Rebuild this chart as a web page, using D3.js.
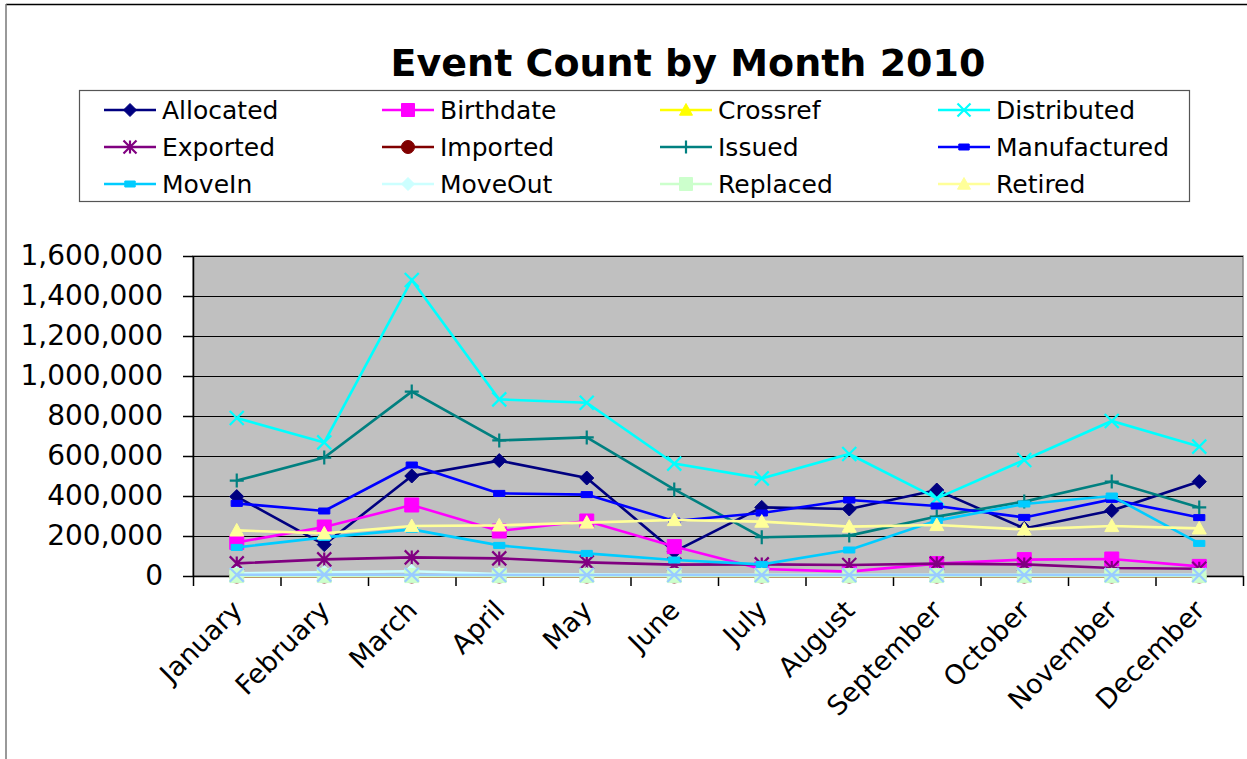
<!DOCTYPE html>
<html>
<head>
<meta charset="utf-8">
<script src="https://cdn.jsdelivr.net/npm/d3@7"></script>
<style>
	body { margin: 0; background: #fff; }
	svg { display: block; font-family: "DejaVu Sans", Verdana, sans-serif; }
</style>
</head>
<body>
<div id="chart"></div>
<script>
	/*
	 * Event counts per month.
	 */
	var months = ['January', 'February', 'March', 'April', 'May', 'June',
		'July', 'August', 'September', 'October', 'November', 'December'];
	var yTicks = [0, 200000, 400000, 600000, 800000, 1000000, 1200000, 1400000, 1600000];

	var allocated = [397000, 157000, 500000, 577000, 490000, 122000, 343000, 335000, 430000, 238000, 327000, 472000];
	var birthdate = [168000, 245000, 355000, 225000, 275000, 147000, 35000, 22000, 62000, 82000, 85000, 48000];
	var crossref = [0, 0, 0, 0, 0, 0, 0, 0, 0, 0, 0, 0];
	var distributed = [790000, 668000, 1480000, 883000, 866000, 562000, 488000, 610000, 388000, 580000, 775000, 647000];
	var exported = [63000, 83000, 93000, 88000, 68000, 57000, 58000, 55000, 62000, 58000, 40000, 36000];
	var imported = [0, 0, 0, 0, 0, 0, 0, 0, 0, 0, 0, 0];
	var issued = [477000, 592000, 922000, 678000, 693000, 433000, 194000, 202000, 297000, 372000, 472000, 343000];
	var manufactured = [363000, 325000, 555000, 413000, 407000, 275000, 315000, 380000, 350000, 293000, 383000, 292000];
	var moveIn = [143000, 193000, 233000, 153000, 113000, 80000, 58000, 130000, 277000, 360000, 400000, 163000];
	var moveOut = [14000, 18000, 24000, 10000, 8000, 6000, 6000, 6000, 6000, 6000, 6000, 6000];
	var replaced = [2000, 2000, 2000, 2000, 2000, 2000, 2000, 2000, 2000, 2000, 2000, 2000];
	var retired = [228000, 213000, 250000, 253000, 267000, 280000, 272000, 247000, 255000, 233000, 250000, 238000];
	// 13th series shows in the plot but has no legend entry
	var extra = [6000, 7000, 6000, 5000, 5000, 5000, 5000, 5000, 5000, 5000, 5000, 5000];

	var seriesNames = ['Allocated', 'Birthdate', 'Crossref', 'Distributed', 'Exported', 'Imported',
		'Issued', 'Manufactured', 'MoveIn', 'MoveOut', 'Replaced', 'Retired', ''];
	var seriesValues = [allocated, birthdate, crossref, distributed, exported, imported,
		issued, manufactured, moveIn, moveOut, replaced, retired, extra];
	var seriesColors = ['#000080', '#ff00ff', '#ffff00', '#00ffff', '#800080', '#800000',
		'#008080', '#0000ff', '#00ccff', '#ccffff', '#ccffcc', '#ffff99', '#99ccff'];
	var seriesMarkers = ['diamond', 'square', 'triangle', 'x', 'star', 'circle',
		'plus', 'dash', 'dash', 'diamond', 'square', 'triangle', 'x'];

	var width = 1247,
		height = 759,
		plot = {left: 193, top: 256, right: 1243, bottom: 576};

	var svg = d3.select('#chart').append('svg')
		.attr('width', width)
		.attr('height', height);

	// outer chart border (only top and left visible)
	svg.append('line').attr('x1', 6).attr('x2', width).attr('y1', 4.5).attr('y2', 4.5)
		.attr('stroke', '#000').attr('stroke-width', 1.5);
	svg.append('line').attr('x1', 6).attr('x2', 6).attr('y1', 4).attr('y2', height)
		.attr('stroke', '#777').attr('stroke-width', 1.5);

	svg.append('text')
		.attr('x', 688)
		.attr('y', 76)
		.attr('text-anchor', 'middle')
		.attr('font-size', 38)
		.attr('font-weight', 'bold')
		.text('Event Count by Month 2010');

	var x = d3.scaleBand().domain(months).range([plot.left, plot.right]).padding(0),
		xEdge = d3.scaleLinear().domain([0, months.length]).range([plot.left, plot.right]),
		y = d3.scaleLinear().domain([0, 1600000]).range([plot.bottom, plot.top]);

	function cx(d, i) { return x(months[i]) + x.bandwidth() / 2; }

	svg.append('rect')
		.attr('x', plot.left).attr('y', plot.top)
		.attr('width', plot.right - plot.left).attr('height', plot.bottom - plot.top)
		.attr('fill', '#c0c0c0')
		.attr('stroke', '#888').attr('stroke-width', 1.5);

	// gridlines
	svg.append('g')
		.attr('transform', 'translate(' + plot.left + ',0)')
		.call(d3.axisLeft(y).tickValues(yTicks.slice(1)).tickSize(-(plot.right - plot.left)).tickFormat(''))
		.call(function(g) {
			g.select('.domain').remove();
			g.selectAll('line').attr('stroke', '#000').attr('stroke-width', 1.2);
		});

	var yAxis = svg.append('g')
		.attr('transform', 'translate(' + plot.left + ',0)')
		.call(d3.axisLeft(y).tickValues(yTicks).tickSize(10).tickSizeOuter(0).tickPadding(20)
			.tickFormat(d3.format(',')));
	yAxis.selectAll('text').attr('font-size', 28).attr('font-family', 'DejaVu Sans').attr('fill', '#000');
	yAxis.selectAll('line, path').attr('stroke', '#000').attr('stroke-width', 1.5);

	var xAxis = svg.append('g')
		.attr('transform', 'translate(0,' + plot.bottom + ')')
		.call(d3.axisBottom(xEdge).tickValues(d3.range(months.length + 1)).tickSize(10).tickSizeOuter(0).tickFormat(''));
	xAxis.selectAll('line, path').attr('stroke', '#000').attr('stroke-width', 1.5);

	svg.append('g').selectAll('text')
		.data(months)
		.enter().append('text')
		.attr('transform', function(d, i) {
			return 'translate(' + (cx(d, i) + 7) + ',' + (plot.bottom + 36) + ') rotate(-45)';
		})
		.attr('text-anchor', 'end')
		.attr('font-size', 27)
		.text(function(d) { return d; });

	function markerPath(type, s) {
		var h = s / 2;
		switch (type) {
		case 'diamond':
			return 'M0,' + -h + 'L' + h + ',0L0,' + h + 'L' + -h + ',0Z';
		case 'square':
			return 'M' + -h + ',' + -h + 'h' + s + 'v' + s + 'h' + -s + 'Z';
		case 'triangle':
			return 'M0,' + -h + 'L' + h + ',' + (h * 0.8) + 'L' + -h + ',' + (h * 0.8) + 'Z';
		case 'circle':
			return d3.symbol().type(d3.symbolCircle).size(Math.PI * h * h)();
		case 'dash':
			return 'M' + -h * 0.8 + ',-3h' + s * 0.8 + 'v6h' + -s * 0.8 + 'Z';
		case 'x':
			return 'M' + -h + ',' + -h + 'L' + h + ',' + h + 'M' + h + ',' + -h + 'L' + -h + ',' + h;
		case 'plus':
			return 'M0,' + -h + 'V' + h + 'M' + -h + ',0H' + h;
		case 'star':
			return 'M' + -h + ',' + -h + 'L' + h + ',' + h + 'M' + h + ',' + -h + 'L' + -h + ',' + h +
				'M0,' + -h + 'V' + h;
		}
	}

	function isStroke(type) { return type === 'x' || type === 'plus' || type === 'star'; }

	function drawMarker(sel, type, color, s) {
		sel.attr('d', markerPath(type, s));
		if (isStroke(type)) {
			sel.attr('fill', 'none').attr('stroke', color).attr('stroke-width', 2.2);
		} else {
			sel.attr('fill', color).attr('stroke', color).attr('stroke-width', 1);
		}
	}

	var line = d3.line()
		.x(function(d, i) { return cx(d, i); })
		.y(function(d) { return y(d); });

	var series = svg.append('g').selectAll('g')
		.data(seriesValues)
		.enter().append('g');

	series.append('path')
		.attr('d', function(d) { return line(d); })
		.attr('fill', 'none')
		.attr('stroke', function(d, i) { return seriesColors[i]; })
		.attr('stroke-width', 2.6);

	series.each(function(vals, si) {
		d3.select(this).selectAll('path.mark')
			.data(vals)
			.enter().append('path')
			.attr('class', 'mark')
			.attr('transform', function(d, i) { return 'translate(' + cx(d, i) + ',' + y(d) + ')'; })
			.each(function() { drawMarker(d3.select(this), seriesMarkers[si], seriesColors[si], 14); });
	});

	// legend
	var legendX = [104, 382, 660, 938],
		legendY = [110, 147, 184];

	svg.append('rect')
		.attr('x', 79.5).attr('y', 90.5)
		.attr('width', 1110).attr('height', 111)
		.attr('fill', '#fff')
		.attr('stroke', '#555').attr('stroke-width', 1.2);

	var items = svg.append('g').selectAll('g')
		.data(seriesNames.filter(function(n) { return n !== ''; }))
		.enter().append('g')
		.attr('transform', function(d, i) {
			return 'translate(' + legendX[i % 4] + ',' + legendY[Math.floor(i / 4)] + ')';
		});

	items.append('line')
		.attr('x1', 0).attr('x2', 52)
		.attr('stroke', function(d, i) { return seriesColors[i]; })
		.attr('stroke-width', 2.6);

	items.append('path')
		.attr('transform', 'translate(26,0)')
		.each(function(d, i) { drawMarker(d3.select(this), seriesMarkers[i], seriesColors[i], 13); });

	items.append('text')
		.attr('x', 58)
		.attr('dy', '0.36em')
		.attr('font-size', 25)
		.text(function(d) { return d; });
</script>
</body>
</html>
